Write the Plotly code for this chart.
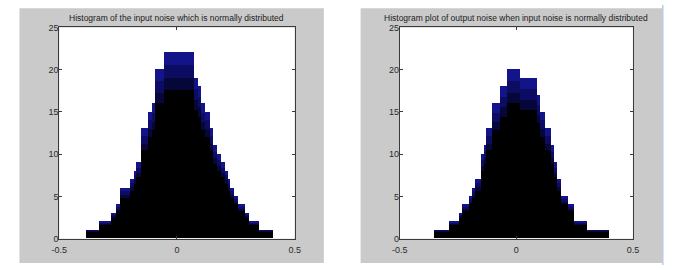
import numpy as np
import plotly.graph_objects as go

# ---------------- data ----------------
# Left panel: histogram of the input noise (bin edges and counts)
in_edges = [-0.385, -0.329, -0.281, -0.256, -0.242, -0.200, -0.183, -0.173, -0.152,
            -0.124, -0.107, -0.094, -0.052, 0.073, 0.089, 0.101, 0.121, 0.142,
            0.156, 0.173, 0.186, 0.205, 0.218, 0.228, 0.242, 0.260, 0.288, 0.309,
            0.350, 0.410]
in_counts = [1, 2, 3, 4, 6, 7, 8, 9, 13, 15, 16, 20, 22, 19, 18, 16, 15, 13, 11, 10,
             9, 8, 7, 6, 5, 4, 3, 2, 1]

# Right panel: histogram of the output noise
out_edges = [-0.353, -0.290, -0.248, -0.234, -0.202, -0.191, -0.178, -0.153, -0.139,
             -0.132, -0.105, -0.073, -0.040, 0.013, 0.088, 0.100, 0.123, 0.147,
             0.160, 0.174, 0.189, 0.221, 0.248, 0.303, 0.396]
out_counts = [1, 2, 3, 4, 5, 6, 7, 10, 11, 13, 16, 18, 20, 19, 17, 15, 13, 11, 9, 7,
              5, 4, 2, 1]

titles = ["Histogram of the input noise which is normally distributed",
          "Histogram plot of output noise when input noise is normally distributed"]
x_tickvals = [-0.5, 0, 0.5]
x_ticktext = ["-0.5", "0", "0.5"]
y_tickvals = [0, 5, 10, 15, 20, 25]

# ---------------- layout geometry ----------------
W, H = 681, 270
FONT = "Liberation Sans, Arial, Helvetica, sans-serif"

panels = [
    dict(edges=in_edges, counts=in_counts, title=titles[0],
         fig_box=(11.7, 322.5), plot_x=(52.3, 292.7), xa="x", ya="y"),
    dict(edges=out_edges, counts=out_counts, title=titles[1],
         fig_box=(360.0, 668.0), plot_x=(400.0, 638.0), xa="x2", ya="y2"),
]
plot_y = (23.3, 242.7)      # top, bottom in pixels
gray_y = (3.3, 268.0)

fig = go.Figure()
shapes = []
annotations = []

for i, p in enumerate(panels):
    e = np.array(p["edges"])
    c = np.array(p["counts"], dtype=float)
    centers = (e[:-1] + e[1:]) / 2
    widths = np.diff(e)
    # layered bars to mimic the navy tops fading into black bodies
    for frac, col in [(1.0, "#14148a"), (0.93, "#0c0c62"), (0.86, "#060638"),
                      (0.8, "#000000")]:
        fig.add_trace(go.Bar(x=centers, y=c * frac, width=widths,
                             marker=dict(color=col, line=dict(width=0)),
                             xaxis=p["xa"], yaxis=p["ya"], showlegend=False,
                             hoverinfo="skip"))
    fx0, fx1 = p["fig_box"]
    shapes.append(dict(type="rect", xref="paper", yref="paper", layer="below",
                       x0=fx0 / W, x1=fx1 / W, y0=1 - gray_y[1] / H, y1=1 - gray_y[0] / H,
                       fillcolor="#cacaca", line=dict(width=0)))
    px0, px1 = p["plot_x"]
    shapes.append(dict(type="rect", xref="paper", yref="paper", layer="below",
                       x0=px0 / W, x1=px1 / W, y0=1 - plot_y[1] / H, y1=1 - plot_y[0] / H,
                       fillcolor="#ffffff", line=dict(width=0)))
    annotations.append(dict(text=p["title"], xref="paper", yref="paper",
                            x=(px0 + px1) / 2 / W, y=1 - 14 / H, xanchor="center",
                            yanchor="middle", showarrow=False,
                            font=dict(family=FONT, size=8.5, color="#1a1a1a")))

# light blue line at right edge of the second figure window
shapes.append(dict(type="line", xref="paper", yref="paper", x0=668.5 / W, x1=668.5 / W,
                   y0=0.0, y1=1.0, line=dict(color="#b9c9e6", width=1.5)))

axis_common = dict(showline=True, linecolor="#3a3a3a", linewidth=1, mirror="ticks",
                   ticks="inside", ticklen=3, tickcolor="#3a3a3a", showgrid=False,
                   zeroline=False, tickfont=dict(family=FONT, size=9, color="#2a2a2a"))

ydom = [1 - plot_y[1] / H, 1 - plot_y[0] / H]
layout = dict(
    width=W, height=H, margin=dict(l=0, r=0, t=0, b=0),
    paper_bgcolor="#ffffff", plot_bgcolor="rgba(0,0,0,0)",
    barmode="overlay", bargap=0, showlegend=False,
    shapes=shapes, annotations=annotations,
)
for i, p in enumerate(panels):
    sfx = "" if i == 0 else "2"
    px0, px1 = p["plot_x"]
    layout["xaxis" + sfx] = dict(axis_common, domain=[px0 / W, px1 / W], range=[-0.5, 0.5],
                                 tickvals=x_tickvals, ticktext=x_ticktext,
                                 anchor="y" + sfx, fixedrange=True,
                                 ticklabelstandoff=2)
    layout["yaxis" + sfx] = dict(axis_common, domain=ydom, range=[0, 25],
                                 tickvals=y_tickvals, anchor="x" + sfx, fixedrange=True,
                                 ticklabelstandoff=-2)

fig.update_layout(**layout)
fig.write_html("out.html", config={"displayModeBar": False},
               post_script="document.body.style.margin='0';document.body.style.overflow='hidden';")
